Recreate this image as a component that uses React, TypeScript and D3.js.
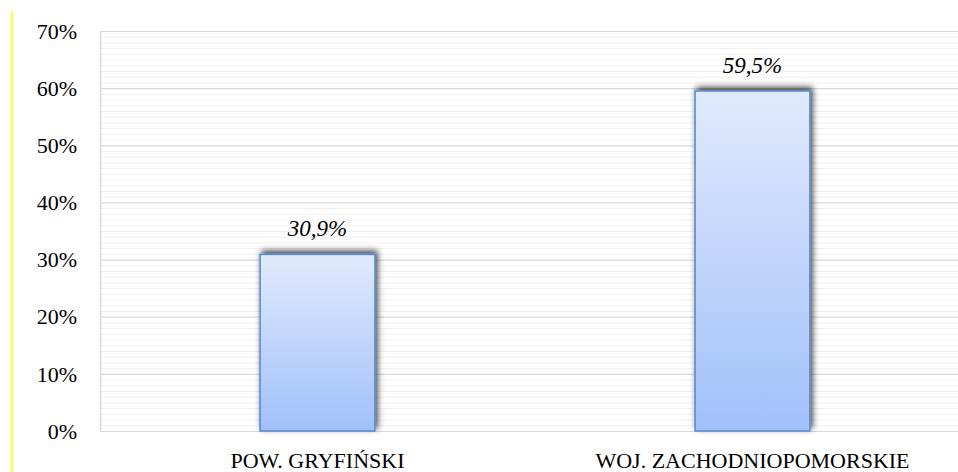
import React, { useEffect, useRef } from "react";
import * as d3 from "d3";

const categories = ["POW. GRYFIŃSKI", "WOJ. ZACHODNIOPOMORSKIE"];
const values = [30.9, 59.5];
const valueLabels = ["30,9%", "59,5%"];
const yTicks = [0, 10, 20, 30, 40, 50, 60, 70];

export default function App() {
  const svgRef = useRef<SVGSVGElement>(null);

  useEffect(() => {
    const w = 958;
    const h = 472;
    const m = { left: 100, top: 31, bottom: 41 };
    const plotRight = 970;
    const font = "'Liberation Serif', serif";

    const svg = d3.select(svgRef.current).attr("width", w).attr("height", h);
    svg.selectAll("*").remove();

    const defs = svg.append("defs");
    const grad = defs
      .append("linearGradient")
      .attr("id", "barGrad")
      .attr("x1", 0)
      .attr("y1", 0)
      .attr("x2", 0)
      .attr("y2", 1);
    grad.append("stop").attr("offset", "0%").attr("stop-color", "#e0eafd");
    grad.append("stop").attr("offset", "100%").attr("stop-color", "#a1c0fa");

    const filter = defs
      .append("filter")
      .attr("id", "shadow")
      .attr("x", "-20%")
      .attr("y", "-20%")
      .attr("width", "140%")
      .attr("height", "140%");
    filter
      .append("feDropShadow")
      .attr("dx", 2)
      .attr("dy", -3)
      .attr("stdDeviation", 3)
      .attr("flood-color", "#000")
      .attr("flood-opacity", 0.75);

    // yellow marker line on the left
    svg
      .append("line")
      .attr("x1", 12)
      .attr("x2", 12)
      .attr("y1", 11)
      .attr("y2", h)
      .attr("stroke", "#ffff00")
      .attr("stroke-width", 1.5);

    const y = d3.scaleLinear().domain([0, 70]).range([h - m.bottom, m.top]);
    const x = d3
      .scaleBand()
      .domain(categories)
      .range([m.left, plotRight])
      .paddingInner(0.736)
      .paddingOuter(0.368);

    // minor gridlines
    svg
      .append("g")
      .selectAll("line")
      .data(d3.range(0, 71, 1).filter((d) => d % 10 !== 0))
      .join("line")
      .attr("x1", m.left)
      .attr("x2", plotRight)
      .attr("y1", (d) => y(d) + 0.5)
      .attr("y2", (d) => y(d) + 0.5)
      .attr("stroke", "#f0f0f0")
      .attr("stroke-width", 1);

    // major gridlines
    svg
      .append("g")
      .selectAll("line")
      .data(yTicks)
      .join("line")
      .attr("x1", m.left)
      .attr("x2", plotRight)
      .attr("y1", (d) => y(d) + 0.5)
      .attr("y2", (d) => y(d) + 0.5)
      .attr("stroke", "#d9d9d9")
      .attr("stroke-width", 1.2);

    // left axis line
    svg
      .append("line")
      .attr("x1", m.left + 0.5)
      .attr("x2", m.left + 0.5)
      .attr("y1", y(70))
      .attr("y2", y(0) + 1)
      .attr("stroke", "#d9d9d9")
      .attr("stroke-width", 1.5);

    // y labels
    svg
      .append("g")
      .selectAll("text")
      .data(yTicks)
      .join("text")
      .attr("x", 77)
      .attr("y", (d) => y(d))
      .attr("dy", "0.35em")
      .attr("text-anchor", "end")
      .attr("font-family", font)
      .attr("font-size", 22)
      .attr("fill", "#000")
      .text((d) => `${d}%`);

    // bars
    svg
      .append("g")
      .selectAll("rect")
      .data(values)
      .join("rect")
      .attr("x", (d, i) => x(categories[i])!)
      .attr("y", (d) => y(d))
      .attr("width", x.bandwidth())
      .attr("height", (d) => y(0) - y(d))
      .attr("fill", "url(#barGrad)")
      .attr("stroke", "#5a88cc")
      .attr("stroke-width", 1.5)
      .attr("filter", "url(#shadow)");

    // value labels
    svg
      .append("g")
      .selectAll("text")
      .data(values)
      .join("text")
      .attr("x", (d, i) => x(categories[i])! + x.bandwidth() / 2)
      .attr("y", (d) => y(d) - 18)
      .attr("text-anchor", "middle")
      .attr("font-family", font)
      .attr("font-style", "italic")
      .attr("font-size", 23)
      .attr("fill", "#000")
      .text((d, i) => valueLabels[i]);

    // category labels
    svg
      .append("g")
      .selectAll("text")
      .data(categories)
      .join("text")
      .attr("x", (d) => x(d)! + x.bandwidth() / 2)
      .attr("y", 468)
      .attr("text-anchor", "middle")
      .attr("font-family", font)
      .attr("font-size", 22)
      .attr("fill", "#000")
      .text((d) => d);
  }, []);

  return (
    <div style={{ position: "absolute", left: 0, top: 0 }}>
      <svg ref={svgRef}></svg>
    </div>
  );
}
